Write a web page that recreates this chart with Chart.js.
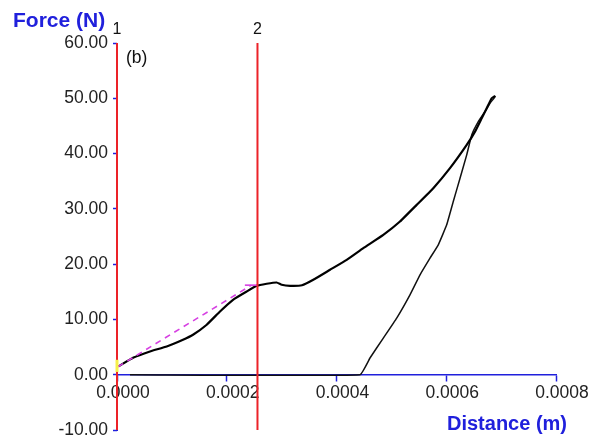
<!DOCTYPE html>
<html>
<head>
<meta charset="utf-8">
<script src="https://cdn.jsdelivr.net/npm/chart.js@4/dist/chart.umd.min.js"></script>
<style>
  html, body { margin: 0; padding: 0; background: #fff; }
  #wrap { width: 596px; height: 438px; }
</style>
</head>
<body>
<div id="wrap"><canvas id="c" width="596" height="438"></canvas></div>
<script>
// Loading branch: distance (m) and force (N)
const loadX = [0.0000024, 0.0000292, 0.0000601, 0.0000906, 0.0001203, 0.0001385, 0.0001635, 0.0001877,
  0.0002114, 0.0002364, 0.0002546, 0.0002728, 0.000291, 0.0003001, 0.0003153, 0.0003371, 0.0003577,
  0.0003882, 0.0004186, 0.0004488, 0.0004853, 0.0005157, 0.0005461, 0.0005764, 0.0006068, 0.0006373,
  0.0006524, 0.0006646, 0.0006737, 0.0006828, 0.000687, 0.0006895];
const loadF = [1.5, 3.07, 4.21, 5.11, 6.33, 7.23, 9.04, 11.44, 13.55, 15.05, 16.08, 16.45, 16.68, 16.27,
  16.08, 16.18, 17.17, 18.98, 20.78, 22.9, 25.3, 27.71, 30.72, 33.74, 37.36, 41.57, 43.97, 46.39, 48.2,
  50.0, 50.3, 50.4];

// Unloading branch, ending with the return along zero force
const unloadX = [0.0006895, 0.000687, 0.0006797, 0.0006706, 0.0006584, 0.0006464, 0.0006373, 0.0006251,
  0.0006128, 0.0006008, 0.0005855, 0.0005704, 0.0005522, 0.0005339, 0.0005097, 0.0004853, 0.000461,
  0.0004428, 0.0000237];
const unloadF = [50.4, 50.0, 49.1, 47.59, 45.78, 43.38, 39.76, 35.55, 31.32, 27.11, 23.5, 21.09, 18.07,
  14.46, 10.25, 6.63, 3.02, 0, 0];

// Linear fit over the first segment and its end marker
const fitX = [0.0000018, 0.000245];
const fitF = [1.45, 16.2];
const fitCapX = [0.000233, 0.000256];
const fitCapF = [16.2, 16.2];

// Cursor positions
const cursorX = [0, 0.000256];
const cursorLabels = ['1', '2'];
const cursorSpan = [60, -10];

// Start marker
const startMarkF = [0.5, 2.7];

// Axis ticks
const xTicks = [0, 0.0002, 0.0004, 0.0006, 0.0008];
const yTicks = [-10, 0, 10, 20, 30, 40, 50, 60];

const BLUE = '#2020dc';
const RED = '#ec2228';

const toPts = (xs, ys) => xs.map((x, i) => ({ x: x, y: ys[i] }));

const datasets = [];
cursorX.forEach((cx, i) => {
  datasets.push({
    label: 'cursor ' + cursorLabels[i],
    data: cursorSpan.map(v => ({ x: cx, y: v })),
    borderColor: RED, borderWidth: 2, showLine: true, pointRadius: 0, clip: false, order: 0
  });
});
datasets.push({
  label: 'start', data: startMarkF.map(v => ({ x: 0, y: v })),
  borderColor: '#f6f04a', borderWidth: 3, showLine: true, pointRadius: 0, clip: false, order: -1
});
datasets.push({
  label: 'fit', data: toPts(fitX, fitF),
  borderColor: '#d640e2', borderWidth: 1.6, borderDash: [6, 5], showLine: true, pointRadius: 0, order: 2
});
datasets.push({
  label: 'fit end', data: toPts(fitCapX, fitCapF),
  borderColor: '#d640e2', borderWidth: 1.6, showLine: true, pointRadius: 0, order: 2
});
datasets.push({
  label: 'loading', data: toPts(loadX, loadF),
  borderColor: '#000', borderWidth: 2.2, showLine: true, pointRadius: 0, tension: 0.1, order: 3
});
datasets.push({
  label: 'unloading', data: toPts(unloadX, unloadF),
  borderColor: '#111', borderWidth: 1.5, showLine: true, pointRadius: 0, tension: 0.1, clip: false, order: 4
});

const textPlugin = {
  id: 'texts',
  afterDatasetsDraw(chart) {
    const ctx = chart.ctx;
    const xs = chart.scales.x;
    const area = chart.chartArea;
    ctx.save();
    ctx.fillStyle = BLUE;
    ctx.font = 'bold 21px "Liberation Sans", Arial, sans-serif';
    ctx.textAlign = 'left';
    ctx.textBaseline = 'alphabetic';
    ctx.fillText('Force (N)', 13, 27);
    ctx.font = 'bold 20px "Liberation Sans", Arial, sans-serif';
    ctx.fillText('Distance (m)', 447, 430);

    ctx.fillStyle = '#111';
    ctx.font = '17.5px "Liberation Sans", Arial, sans-serif';
    ctx.fillText('(b)', area.left + 9, area.top + 20);

    ctx.font = '16px "Liberation Sans", Arial, sans-serif';
    ctx.textAlign = 'center';
    cursorX.forEach((cx, i) => {
      ctx.fillText(cursorLabels[i], xs.getPixelForValue(cx), area.top - 9);
    });
    ctx.restore();
  }
};

const tickFont = { family: '"Liberation Sans", Arial, sans-serif', size: 17.5 };

new Chart(document.getElementById('c'), {
  type: 'scatter',
  data: { datasets: datasets },
  options: {
    responsive: false,
    animation: false,
    layout: { padding: { top: 43, bottom: 8, right: 40, left: 0 } },
    plugins: { legend: { display: false }, tooltip: { enabled: false } },
    scales: {
      x: {
        type: 'linear',
        position: { y: 0 },
        min: xTicks[0], max: xTicks[xTicks.length - 1],
        afterBuildTicks: (s) => { s.ticks = xTicks.map(v => ({ value: v })); },
        afterFit: (s) => { s.paddingLeft = 0; s.paddingRight = 0; },
        ticks: {
          font: tickFont, color: '#222', padding: 2, labelOffset: 6, maxRotation: 0, autoSkip: false,
          callback: (v) => Number(v).toFixed(4)
        },
        grid: { drawOnChartArea: false, drawTicks: true, tickLength: 6, tickColor: BLUE, tickWidth: 1.5 },
        border: { color: BLUE, width: 1.5 }
      },
      y: {
        type: 'linear',
        min: yTicks[0], max: yTicks[yTicks.length - 1],
        afterBuildTicks: (s) => { s.ticks = yTicks.map(v => ({ value: v })); },
        afterFit: (s) => { s.width = 117; s.paddingTop = 0; s.paddingBottom = 0; },
        ticks: {
          font: tickFont, color: '#222', padding: 5,
          callback: (v) => Number(v).toFixed(2)
        },
        grid: { drawOnChartArea: false, drawTicks: true, tickLength: 4, tickColor: BLUE, tickWidth: 1.5 },
        border: { color: BLUE, width: 1 }
      }
    }
  },
  plugins: [textPlugin]
});
</script>
</body>
</html>
